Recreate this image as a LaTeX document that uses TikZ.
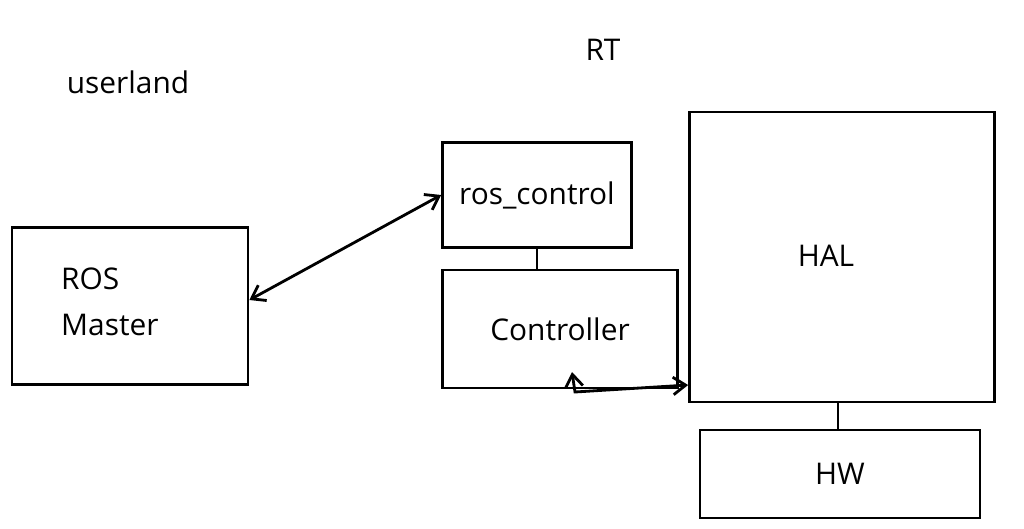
\documentclass[tikz,border=0pt]{standalone}
\usepackage{fontspec}
\setmainfont{Open Sans}
\usetikzlibrary{arrows.meta}
\tikzset{
  blk/.style={draw, line width=1.6pt, inner sep=0pt},
  lbl/.style={font=\fontsize{17}{26}\selectfont},
  link/.style={line width=1.6pt},
  dbl/.style={link, {Straight Barb[length=2.5mm,width=3.5mm]}-{Straight Barb[length=2.5mm,width=3.5mm]}}
}
\begin{document}
\begin{tikzpicture}[x=0.02cm,y=-0.02cm]
	\useasboundingbox (0,0) rectangle (1024,528);
	
	\node[lbl] (userland) at (128,82) {userland};
	\node[lbl] (rt) at (603,50) {RT};
	
	\node[blk, minimum width=4.72cm, minimum height=3.14cm] (master) at (130,306) {};
	\node[lbl, align=left, anchor=north west] (mastertxt) at (55,262) {ROS\\Master};
	\node[blk, minimum width=3.78cm, minimum height=2.1cm, lbl] (roscontrol) at (537,195) {ros\_control};
	\node[blk, minimum width=4.7cm, minimum height=2.36cm, lbl] (controller) at (560,329) {Controller};
	\node[blk, minimum width=6.1cm, minimum height=5.8cm] (hal) at (842,257) {};
	\node[lbl] (haltxt) at (826,256) {HAL};
	\node[blk, minimum width=5.6cm, minimum height=1.76cm, lbl] (hw) at (840,474) {HW};
	
	\draw[dbl] (master.east |- 0,300) -- (roscontrol.west |- 0,195);
	\draw[link] (roscontrol.south) -- (controller.north -| roscontrol.south);
	\draw[link] (hal.south -| 838,0) -- (hw.north -| 838,0);
	\coordinate (turn) at (575,392);
	\draw[dbl] (572,372) -- (turn) -- (hal.west |- 0,385);
\end{tikzpicture}
\end{document}
